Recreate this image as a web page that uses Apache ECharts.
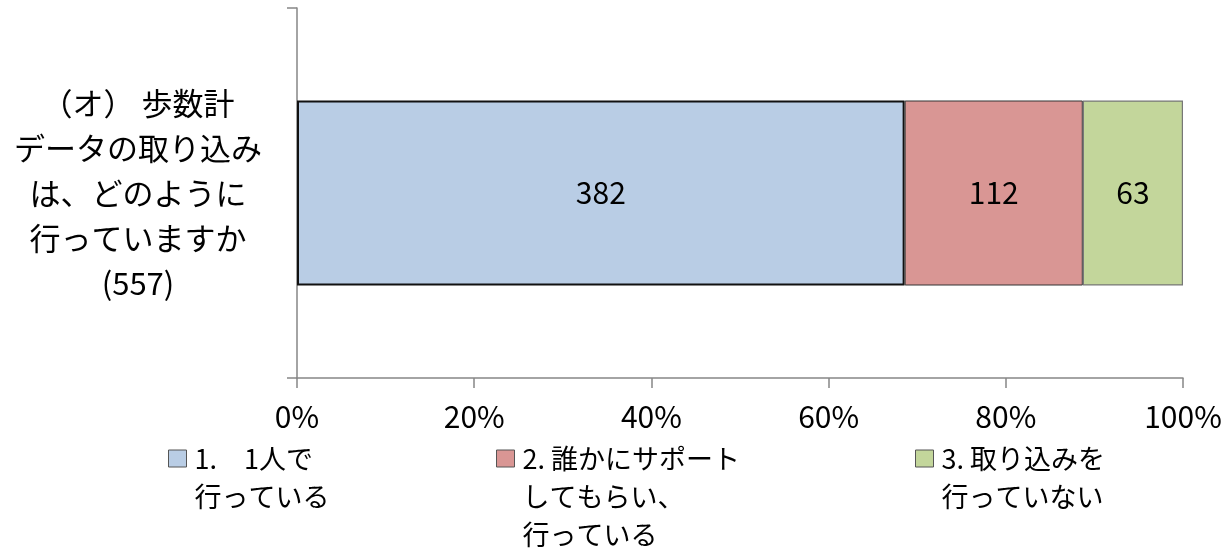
<!DOCTYPE html>
<html><head><meta charset="utf-8">
<script src="https://cdn.jsdelivr.net/npm/echarts@6/dist/echarts.min.js"></script>
<style>html,body{margin:0;padding:0;background:#fff}#c{width:1227px;height:554px}</style>
</head><body><div id="c"></div>
<script>
const categories = ['（オ） 歩数計\nデータの取り込み\nは、どのように\n行っていますか\n(557)'];
const seriesNames = ['1.　1人で\n行っている', '2. 誰かにサポート\nしてもらい、\n行っている', '3. 取り込みを\n行っていない'];
const counts = [382, 112, 63];
const tickLabels = ['0%', '20%', '40%', '60%', '80%', '100%'];
const colors = ['#B9CDE5', '#D99694', '#C3D69B'];
const borders = [['#111', 2], ['#333', 1], ['#777', 1.2]];

const total = counts.reduce((a, b) => a + b, 0);
const font = '"Noto Sans CJK JP", "Noto Sans", sans-serif';
const chart = echarts.init(document.getElementById('c'));
const legendLeft = [168, 496, 915];
const lh = 38;
const legends = seriesNames.map((n, i) => {
  const lines = n.split('\n').length;
  const boxTop = 8.5 - (2 * lines - 1) * lh / 2;
  return {
    data: [n], left: legendLeft[i], top: 450 + Math.min(0, boxTop), padding: 0,
    itemWidth: 18, itemHeight: 17, icon: 'rect', selectedMode: false,
    itemStyle: { borderColor: '#555', borderWidth: 1 },
    formatter: (name) => ' \n'.repeat(lines - 1) + name,
    textStyle: { fontFamily: font, fontSize: 27, color: '#000', lineHeight: lh, padding: [0, 0, 0, 3] }
  };
});
chart.setOption({
  animation: false,
  backgroundColor: '#fff',
  grid: { left: 297, right: 44, top: 8, bottom: 176, containLabel: false },
  legend: legends,
  xAxis: {
    type: 'value', min: 0, max: 100, interval: 20,
    axisLine: { show: true, lineStyle: { color: '#868686', width: 1.5 } },
    axisTick: { show: true, length: 10, lineStyle: { color: '#868686', width: 1.5 } },
    splitLine: { show: false },
    axisLabel: { margin: 24, fontFamily: font, fontSize: 30, color: '#000',
      formatter: (v) => tickLabels[Math.round(v / 20)] }
  },
  yAxis: {
    type: 'category', data: categories,
    axisLine: { show: true, lineStyle: { color: '#868686', width: 1.5 } },
    axisTick: { show: true, length: 10, lineStyle: { color: '#868686', width: 1.5 } },
    axisLabel: { margin: 159, align: 'center', fontFamily: font, fontSize: 31, lineHeight: 45, color: '#000' }
  },
  series: seriesNames.map((n, i) => ({
    name: n, type: 'bar', stack: 'all', barWidth: '50%',
    itemStyle: { color: colors[i], borderColor: borders[i][0], borderWidth: borders[i][1] },
    label: { show: true, position: 'inside', fontFamily: font, fontSize: 30, color: '#000',
      formatter: () => String(counts[i]) },
    data: [counts[i] / total * 100]
  }))
});
</script></body></html>
